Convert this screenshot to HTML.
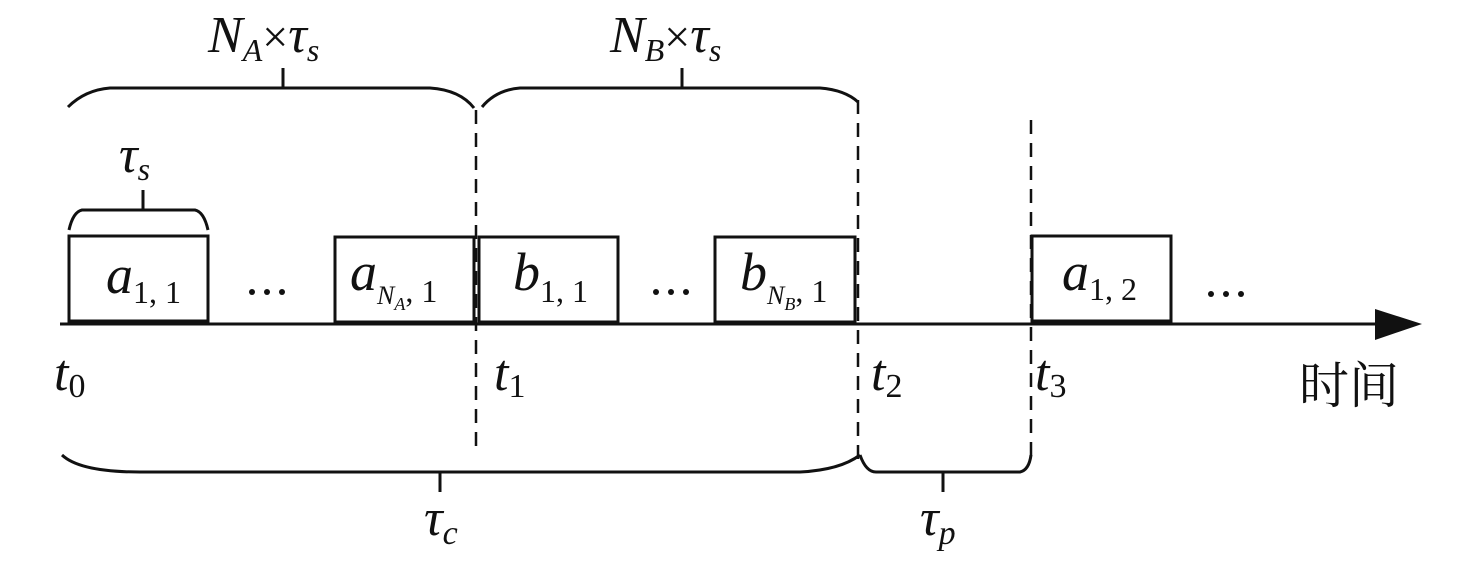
<!DOCTYPE html>
<html><head><meta charset="utf-8"><style>
html,body{margin:0;padding:0;background:#fff;}
svg{display:block;}
</style></head><body>
<svg width="1476" height="568" viewBox="0 0 1476 568" xmlns="http://www.w3.org/2000/svg">
<g fill="none" stroke="#111" stroke-width="3">
<line x1="60" y1="324" x2="1380" y2="324"/>
<rect x="69" y="236" width="139" height="85"/>
<rect x="335" y="237" width="139" height="85"/>
<rect x="479" y="237" width="139" height="85"/>
<rect x="715" y="237" width="140" height="85"/>
<rect x="1032" y="236" width="139" height="85"/>
<path d="M68,107 Q85,90 110,88 L430,88 Q460,90 474,108"/>
<line x1="283" y1="68" x2="283" y2="88"/>
<path d="M482,107 Q496,90 520,88 L820,88 Q845,90 858,102"/>
<line x1="682" y1="68" x2="682" y2="88"/>
<path d="M69,230 Q73,212 82,210 L195,210 Q204,212 208,230"/>
<line x1="143" y1="190" x2="143" y2="210"/>
<path d="M62,455 Q80,472 140,472 L800,472 Q840,470 860,455"/>
<line x1="440" y1="472" x2="440" y2="492"/>
<path d="M860,455 Q866,472 876,472 L1020,472 Q1029,470 1031,455"/>
<line x1="943" y1="472" x2="943" y2="492"/>
</g>
<g stroke="#111" stroke-width="2.5" stroke-dasharray="14,9">
<line x1="476" y1="110" x2="476" y2="455"/>
<line x1="858" y1="100" x2="858" y2="460"/>
<line x1="1031" y1="120" x2="1031" y2="460"/>
</g>
<polygon points="1375,309 1422,324 1375,340" fill="#111"/>
<g fill="#111">
<circle cx="252" cy="292" r="3"/><circle cx="267" cy="292" r="3"/><circle cx="282" cy="292" r="3"/>
<circle cx="656" cy="292" r="3"/><circle cx="671" cy="292" r="3"/><circle cx="686" cy="292" r="3"/>
<circle cx="1211" cy="294" r="3"/><circle cx="1226" cy="294" r="3"/><circle cx="1241" cy="294" r="3"/>
</g>

<g font-family="Liberation Serif, serif" font-style="italic" fill="#111">
<text x="208" y="52" font-size="52">N<tspan font-size="32" dy="9">A</tspan><tspan font-style="normal" font-size="46" dy="-9">×</tspan>τ<tspan font-size="32" dy="9">s</tspan></text>
<text x="610" y="52" font-size="52">N<tspan font-size="32" dy="9">B</tspan><tspan font-style="normal" font-size="46" dy="-9">×</tspan>τ<tspan font-size="32" dy="9">s</tspan></text>
<text x="119" y="172" font-size="52">τ<tspan font-size="32" dy="8">s</tspan></text>

<text x="106" y="293" font-size="54">a<tspan font-style="normal" font-size="32" dy="10">1, 1</tspan></text>
<text x="350" y="290" font-size="54">a<tspan font-size="26" dy="14">N</tspan><tspan font-size="18" dy="6">A</tspan><tspan font-style="normal" font-size="32" dy="-8">, 1</tspan></text>
<text x="513" y="290" font-size="54">b<tspan font-style="normal" font-size="32" dy="12">1, 1</tspan></text>
<text x="740" y="290" font-size="54">b<tspan font-size="26" dy="14">N</tspan><tspan font-size="18" dy="6">B</tspan><tspan font-style="normal" font-size="32" dy="-8">, 1</tspan></text>
<text x="1062" y="290" font-size="54">a<tspan font-style="normal" font-size="32" dy="10">1, 2</tspan></text>

<text x="54" y="390" font-size="52">t<tspan font-style="normal" font-size="34" dy="7">0</tspan></text>
<text x="494" y="390" font-size="52">t<tspan font-style="normal" font-size="34" dy="7">1</tspan></text>
<text x="871" y="390" font-size="52">t<tspan font-style="normal" font-size="34" dy="7">2</tspan></text>
<text x="1035" y="390" font-size="52">t<tspan font-style="normal" font-size="34" dy="7">3</tspan></text>

<text x="424" y="535" font-size="52">τ<tspan font-size="34" dy="9">c</tspan></text>
<text x="920" y="535" font-size="52">τ<tspan font-size="34" dy="9">p</tspan></text>
</g>
<text x="1299" y="403" font-size="50" font-family="Noto Serif CJK SC, serif" fill="#111">时间</text>
</svg>
</body></html>
